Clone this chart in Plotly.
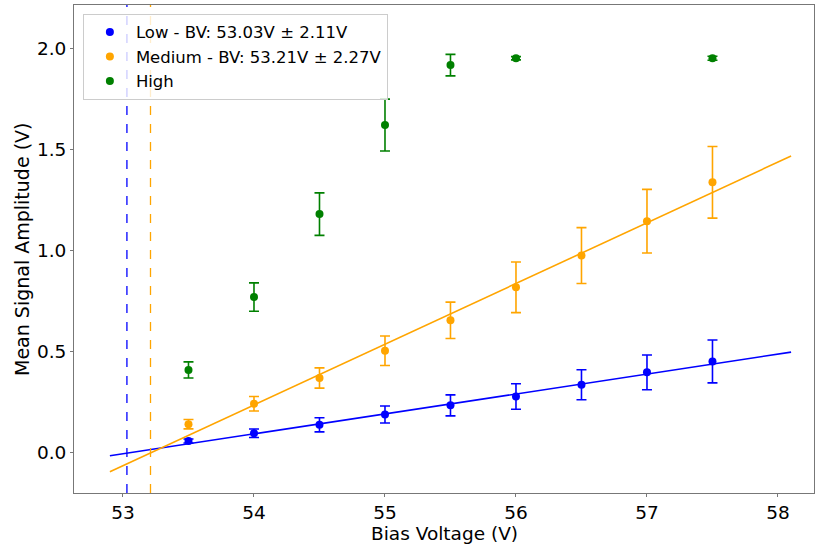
import plotly.graph_objects as go

bias_voltage = [53.5, 54.0, 54.5, 55.0, 55.5, 56.0, 56.5, 57.0, 57.5]
low_mean = [0.059, 0.097, 0.139, 0.19, 0.235, 0.279, 0.337, 0.398, 0.452]
low_err = [0.01, 0.021, 0.035, 0.042, 0.052, 0.063, 0.074, 0.086, 0.106]
medium_mean = [0.142, 0.243, 0.37, 0.505, 0.655, 0.818, 0.975, 1.145, 1.337]
medium_err = [0.023, 0.036, 0.05, 0.073, 0.09, 0.125, 0.138, 0.157, 0.177]
high_x = [53.5, 54.0, 54.5, 55.0, 55.5, 56.0, 57.5]
high_mean = [0.41, 0.77, 1.18, 1.62, 1.916, 1.95, 1.95]
high_err = [0.04, 0.07, 0.105, 0.128, 0.053, 0.008, 0.01]

fit_x = [52.9, 58.1]
low_fit_y = [-0.014, 0.498]
medium_fit_y = [-0.093, 1.467]
low_bv = 53.03
medium_bv = 53.21

x_title = "Bias Voltage (V)"
y_title = "Mean Signal Amplitude (V)"

BLUE = "#0000ff"
ORANGE = "#ffa500"
GREEN = "#008000"
FONT = "DejaVu Sans"

fig = go.Figure()

def add_err(x, y, e, color, name):
    fig.add_trace(go.Scatter(
        x=x, y=y, mode="markers", name=name,
        marker=dict(color=color, size=8),
        error_y=dict(type="data", array=e, visible=True, color=color,
                     thickness=1.6, width=5),
    ))

add_err(bias_voltage, low_mean, low_err, BLUE, "Low - BV: 53.03V ± 2.11V")
add_err(bias_voltage, medium_mean, medium_err, ORANGE, "Medium - BV: 53.21V ± 2.27V")
add_err(high_x, high_mean, high_err, GREEN, "High")

fig.add_trace(go.Scatter(x=fit_x, y=low_fit_y, mode="lines",
                         line=dict(color=BLUE, width=1.6), showlegend=False))
fig.add_trace(go.Scatter(x=fit_x, y=medium_fit_y, mode="lines",
                         line=dict(color=ORANGE, width=1.6), showlegend=False))

fig.add_vline(x=low_bv, line=dict(color=BLUE, width=1.3, dash="dash"))
fig.add_vline(x=medium_bv, line=dict(color=ORANGE, width=1.3, dash="dash"))

axis_common = dict(
    showgrid=False, zeroline=False, showline=True, linecolor="#777777",
    linewidth=1, mirror=True, ticks="outside", ticklen=3, tickwidth=1,
    tickcolor="#777777", tickfont=dict(family=FONT, size=18.5, color="black"),
)

fig.update_layout(
    width=816, height=544,
    margin=dict(l=74, r=2, t=5, b=51),
    paper_bgcolor="white", plot_bgcolor="white",
    font=dict(family=FONT, color="black"),
    xaxis=dict(range=[52.626, 58.275], tickvals=[53, 54, 55, 56, 57, 58],
               **axis_common),
    yaxis=dict(range=[-0.198, 2.213], tickvals=[0, 0.5, 1.0, 1.5, 2.0],
               ticktext=["0.0", "0.5", "1.0", "1.5", "2.0"],
               **axis_common),
    legend=dict(x=0.012, y=0.982, xanchor="left", yanchor="top",
                bgcolor="rgba(255,255,255,0.8)", bordercolor="#cccccc", borderwidth=1,
                font=dict(family=FONT, size=16.5), itemwidth=42,
                tracegroupgap=0),
)

fig.add_annotation(text=x_title, xref="paper", yref="paper", x=0.5, y=-0.083,
                   xanchor="center", yanchor="middle", showarrow=False,
                   font=dict(family=FONT, size=18.5, color="black"))
fig.add_annotation(text=y_title, xref="paper", yref="paper", x=-0.0703, y=0.5,
                   xanchor="center", yanchor="middle", showarrow=False, textangle=-90,
                   font=dict(family=FONT, size=19, color="black"))

fig.write_html("out.html")
